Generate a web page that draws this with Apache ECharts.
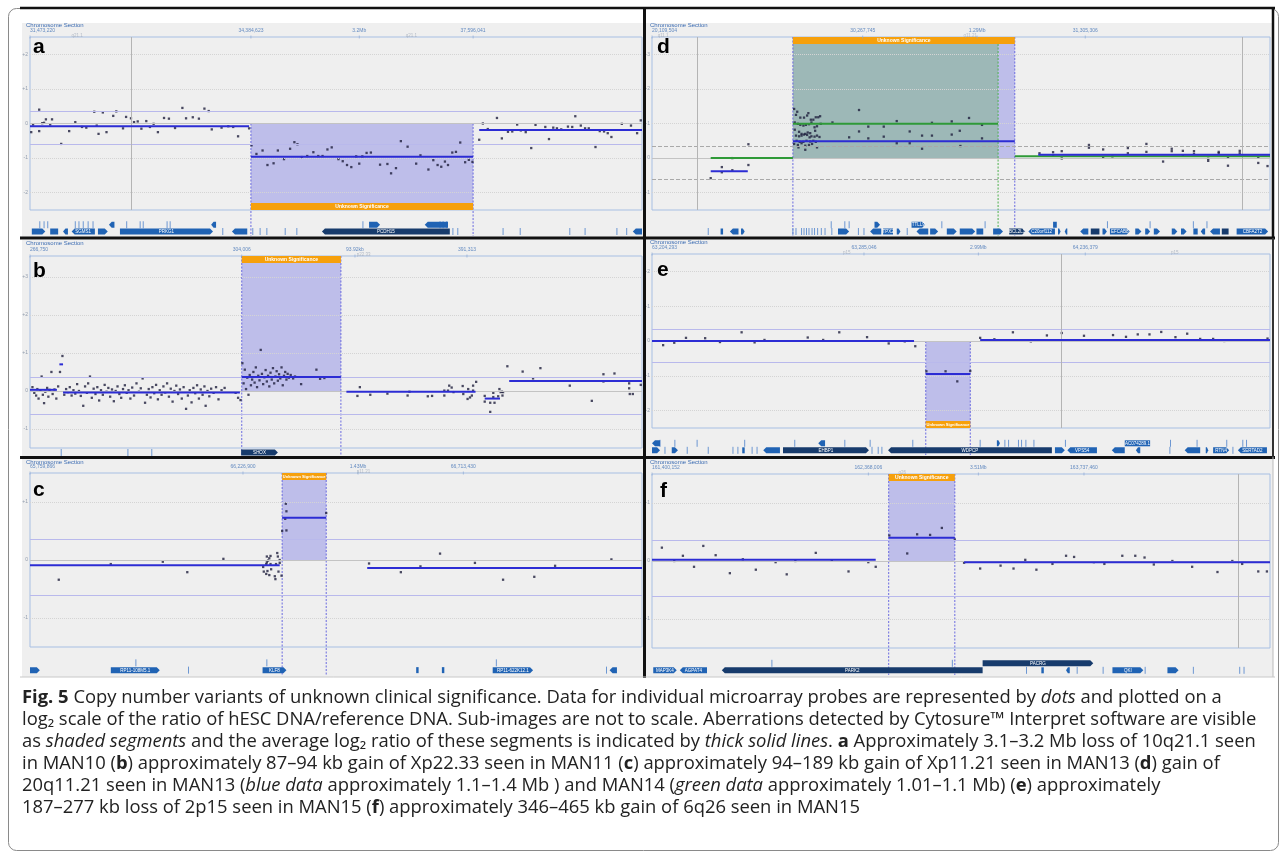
<!DOCTYPE html>
<html><head><meta charset="utf-8">
<script src="https://cdn.jsdelivr.net/npm/echarts@6/dist/echarts.min.js"></script>
<style>html,body{margin:0;padding:0;background:#fff;}#c{width:1287px;height:858px;}</style>
</head><body><div id="c"></div>
<script>
// ---------------- DATA ----------------
// x = relative position in the window (0-100 %), y = log2 ratio
const thresholds = [0.35, -0.6];

const aYTicks = [-2,-1,0,1,2];
const aDots = [[0.2,-0.25],[0.5,-0.03],[1.5,0.4],[1.5,-0.22],[2.0,0.01],[2.3,0.02],[2.6,0.12],[3.3,-0.03],[3.6,0.12],[5.1,-0.59],[6.4,-0.22],[7.4,0.04],[8.5,-0.1],[9.2,-0.12],[10.5,0.34],[10.9,-0.06],[11.2,-0.3],[11.9,0.32],[12.5,-0.25],[13.6,0.22],[14.1,0.35],[15.2,-0.14],[15.7,0.19],[16.5,0.15],[17.0,0.04],[17.6,0.06],[18.2,-0.15],[19.0,0.07],[19.6,-0.1],[20.2,-0.01],[20.9,-0.25],[21.9,0.16],[22.7,0.14],[23.7,-0.13],[24.9,0.45],[25.5,0.15],[26.6,0.18],[27.6,0.14],[28.5,0.43],[29.2,0.36],[29.7,-0.17],[31.3,-0.12],[32.4,-0.08],[33.2,-0.1],[34.0,-0.37],[35.8,-0.14],
[36.2,-0.63],[37.0,-0.88],[38.0,-0.78],[38.8,-1.2],[39.8,-1.15],[40.5,-0.78],[41.5,-1.03],[42.5,-0.73],[43.2,-0.54],[43.7,-0.6],[44.4,-0.97],[45.3,-0.94],[46.3,-0.83],[47.1,-0.94],[47.8,-0.94],[48.6,-0.75],[49.3,-0.69],[50.4,-1.03],[51.1,-1.09],[51.8,-1.2],[52.5,-1.26],[53.3,-0.95],[53.8,-1.16],[54.3,-0.95],[55.0,-0.85],[55.7,-0.84],[57.2,-1.19],[58.4,-1.17],[59.0,-1.44],[59.8,-1.29],[60.6,-0.51],[61.7,-0.67],[63.1,-1.16],[63.8,-0.92],[65.1,-1.33],[65.9,-1.06],[66.6,-1.2],[67.2,-1.25],[67.8,-1.1],[68.3,-1.2],[69.0,-0.84],[69.6,-0.82],[70.3,-0.55],[71.1,-1.12],[71.7,-1.05],[72.3,-1.11],
[73.4,-0.47],[74.0,0.0],[74.8,-0.16],[76.3,0.16],[77.1,-0.43],[78.1,-0.24],[78.8,-0.23],[79.6,-0.03],[80.2,-0.2],[81.0,-0.25],[81.9,-0.71],[82.6,-0.04],[84.2,-0.1],[84.8,-0.45],[85.5,-0.12],[86.1,-0.14],[86.8,-0.17],[87.9,-0.09],[88.6,-0.1],[89.1,0.21],[90.0,-0.06],[90.7,-0.14],[91.3,-0.14],[92.4,-0.68],[93.1,-0.22],[93.8,-0.23],[94.4,-0.28],[95.0,-0.39],[96.7,-0.01],[98.2,-0.06],[99.2,-0.28],[99.8,0.09]];
const aMean = [[0,35.8,-0.08],[36.1,72.4,-0.96],[73.4,100,-0.19]];
const aShade = [[36.1,72.4]];
const aVLines = [16.5];
const aTop = [[0,'31,473,220'],[36.1,'34,384,623'],[53.8,'3.2Mb'],[72.4,'37,596,041']];
const aBand = [[7.7,'q21.1'],[62.3,'q21.1']];
const aGenes = [[0.3,2.5,1,'r',0,''],[3.3,4.6,1,'b',0,''],[5.4,6.2,1,'l',0,''],[6.8,10.6,1,'l',0,'SGMS1'],[11.1,12.7,1,'r',0,''],[12.9,13.8,0,'l',0,''],[14.7,29.9,1,'r',0,'PRKG1'],[29.6,30.4,0,'l',0,''],[33.0,35.5,1,'l',0,''],[47.7,68.6,1,'l',1,'PCDH15'],[55.4,57.2,0,'r',0,''],[64.5,68.3,0,'l',0,''],[98.5,100,1,'l',0,'']];
const aGeneTicks = [[1.6,0],[2.3,0],[2.9,0],[7.4,0],[8.0,0],[8.7,0],[9.5,0],[10.3,0],[15.8,0],[18.0,0],[18.5,0],[22.4,0],[22.9,0],[54.4,0],[67.0,0],[67.5,0],[68.1,0],[31.5,1],[36.4,1],[37.6,1],[38.7,1],[41.7,1],[43.6,1],[69.1,1],[69.9,1],[77.3,1],[80.1,1],[88.2,1],[90.7,1],[95.9,1],[97.5,1]];

const bYTicks = [-1,0,1,2,3];
const bDots = [[0.4,0.1],[0.7,-0.05],[1.0,-0.12],[1.2,0.05],[1.4,-0.2],[1.7,0.02],[1.9,0.38],[2.1,-0.1],[2.3,-0.32],[2.5,-0.02],[2.8,0.08],[3.0,-0.15],[3.2,0.03],[3.5,0.5],[3.7,-0.08],[4.0,0.04],[4.3,-0.2],[4.6,0.12],[4.9,0.5],[5.3,0.92],[5.6,-0.1],[5.9,0.05],[6.2,-0.03],[6.5,0.1],[6.8,-0.12],[7.1,0.02],[7.4,-0.07],[7.7,0.18],[8.0,0.0],[8.3,-0.13],[8.7,-0.39],[9.0,0.12],[9.3,-0.05],[9.5,0.2],[9.8,0.38],[10.1,-0.18],[10.4,0.06],[10.7,-0.08],[11.0,0.1],[11.3,-0.25],[11.6,0.02],[11.9,-0.1],[12.2,0.16],[12.5,-0.02],[12.8,0.08],[13.1,-0.15],[13.4,0.04],[13.7,-0.27],[14.0,0.0],[14.3,0.12],[14.6,-0.08],[14.9,-0.18],[15.2,0.05],[15.5,0.15],[15.8,-0.05],[16.1,0.02],[16.4,-0.2],[16.7,0.09],[17.0,-0.12],[17.4,0.2],[17.8,-0.02],[18.1,0.07],[18.4,0.33],[18.8,-0.31],[19.1,-0.1],[19.4,0.05],[19.7,-0.17],[20.0,0.1],[20.3,-0.06],[20.6,0.16],[20.9,-0.22],[21.2,0.02],[21.5,-0.1],[21.8,0.12],[22.1,-0.04],[22.4,0.2],[22.7,-0.15],[23.0,0.06],[23.3,-0.28],[23.6,0.0],[23.9,0.14],[24.2,-0.08],[24.5,0.04],[24.8,-0.2],[25.1,0.1],[25.5,-0.47],[25.8,-0.12],[26.1,0.02],[26.4,-0.3],[26.7,0.08],[27.0,-0.06],[27.3,0.15],[27.6,-0.2],[27.9,0.04],[28.2,-0.1],[28.5,0.12],[28.7,-0.39],[29.0,0.0],[29.3,-0.14],[29.6,0.06],[30.0,-0.05],[30.4,0.1],[30.8,-0.22],[31.3,0.02],[31.8,0.08],[33.6,-0.05],[34.0,-0.18],[34.4,-0.24],
[34.7,0.73],[34.9,0.2],[35.1,0.56],[35.3,0.05],[35.5,0.35],[35.7,-0.1],[35.9,0.42],[36.1,0.15],[36.3,0.3],[36.5,0.5],[36.7,0.22],[36.9,0.62],[37.1,0.1],[37.3,0.4],[37.5,0.28],[37.7,1.08],[37.9,0.45],[38.1,0.18],[38.3,0.36],[38.5,0.55],[38.7,0.25],[38.9,0.4],[39.1,0.12],[39.3,0.48],[39.5,0.3],[39.7,0.6],[39.9,0.2],[40.1,0.38],[40.3,0.52],[40.5,0.27],[40.7,0.44],[40.9,0.33],[41.1,0.62],[41.3,0.15],[41.5,0.4],[41.7,0.5],[41.9,0.3],[42.1,0.45],[42.3,0.35],[42.6,0.42],[43.0,0.33],[43.3,0.38],[44.3,0.18],[46.8,0.56],[47.4,0.32],[48.1,0.34],
[53.9,0.1],[53.5,-0.13],[55.6,-0.1],[58.4,-0.07],[61.7,-0.12],[62.0,-0.02],[65.0,-0.14],[65.7,-0.13],[67.7,0.01],[67.7,-0.12],[68.5,0.14],[68.9,0.09],[68.3,0.01],[69.2,-0.03],[70.7,0.13],[70.8,-0.08],[71.6,0.05],[71.5,-0.21],[71.9,-0.17],[72.2,-0.12],[72.4,0.14],[72.4,0.01],[72.9,0.24],[74.3,-0.13],[74.3,-0.28],[75.2,-0.31],[75.2,-0.55],[75.7,-0.05],[75.7,-0.16],[75.9,-0.31],[76.5,-0.14],[76.7,0.05],[76.9,-0.03],[77.1,-0.02],[77.3,-0.03],[77.2,-0.12],[78.0,0.65],[80.5,0.51],[82.2,0.33],[83.4,0.6],[88.2,0.14],[91.8,-0.26],[93.7,0.44],[93.7,0.25],[95.5,0.46],[97.9,0.2],[97.9,0.07],[98.0,-0.08],[98.5,-0.08],[99.8,0.16]];
const bMean = [[0,4.4,0.03],[4.8,5.4,0.7],[5.4,34.3,-0.04],[34.6,50.8,0.37],[51.7,72.8,-0.02],[74.3,76.8,-0.2],[78.3,100,0.26]];
const bShade = [[34.6,50.8]];
const bVLines = [];
const bTop = [[0,'266,750'],[34.6,'304,006'],[53.1,'93.92kb'],[71.4,'391,313']];
const bBand = [[54.5,'p22.33']];
const bGenes = [[34.5,40.5,0,'r',1,'SHOX']];
const bGeneTicks = [[5.1,0],[16.0,0],[19.9,0]];

const cYTicks = [-1,0,1];
const cDots = [[4.7,-0.34],[13.2,-0.07],[21.7,-0.03],[25.7,-0.21],[31.6,0.02],[38.7,0.06],[39.1,0.03],[39.3,0.07],[40.4,0.12],[40.5,0.06],[38.7,-0.04],[38.9,-0.01],[38.1,-0.12],[38.6,-0.07],[39.3,-0.07],[40.2,-0.07],[40.8,-0.05],[38.2,-0.2],[38.8,-0.19],[39.4,-0.16],[40.6,-0.2],[38.6,-0.24],[39.1,-0.26],[40.0,-0.28],[40.1,-0.33],[41.1,-0.27],[40.8,0.0],[41.8,0.97],[41.9,0.84],[41.7,0.71],[41.2,0.5],[41.9,0.51],[48.4,0.81],[55.4,-0.06],[60.6,-0.21],[63.8,-0.11],[67.0,0.11],[72.7,-0.05],[77.3,-0.34],[82.4,-0.29],[85.8,-0.1],[95.0,0.01]];
const cMean = [[0,40.8,-0.09],[41.2,48.4,0.73],[55.1,100,-0.14]];
const cShade = [[41.2,48.4]];
const cVLines = [];
const cTop = [[0,'65,759,866'],[34.8,'66,226,900'],[53.6,'1.43Mb'],[70.8,'66,713,430']];
const cBand = [[54.5,'p11.21']];
const cGenes = [[0,1.6,1,'r',0,''],[13.2,21.2,1,'r',0,'RP11-108M5.1'],[38.0,41.9,1,'r',0,'KLF8'],[63.1,63.5,1,'b',0,''],[67.3,67.7,1,'b',0,''],[75.6,82.2,1,'r',0,'RP11-622K12.1'],[94.7,95.9,1,'l',0,'']];
const cGeneTicks = [[17.3,0],[38.7,0],[76.2,0],[25.9,1],[94.2,1]];

const dYTicks = [-1,0,1,2,3];
const dDots = [[9.5,-0.58],[11.3,-0.26],[11.3,-0.41],[13.0,-0.35],[13.0,0.0],[15.6,-0.2],[15.6,0.4],
[23.0,1.42],[23.5,1.34],[23.3,1.25],[24.0,1.17],[24.6,1.17],[25.1,1.23],[25.3,1.3],[25.7,1.11],[26.1,1.11],[26.5,1.18],[26.9,1.18],[27.2,1.21],[23.1,1.03],[23.6,0.99],[24.0,0.96],[24.5,0.94],[24.9,0.96],[25.4,0.98],[25.8,1.03],[26.3,0.89],[26.7,0.92],[27.3,0.99],[23.1,0.82],[23.8,0.76],[24.2,0.7],[24.8,0.7],[25.2,0.74],[25.6,0.72],[26.4,0.79],[23.3,0.65],[23.8,0.63],[24.2,0.65],[24.6,0.68],[25.1,0.67],[25.5,0.6],[25.8,0.63],[26.3,0.62],[26.7,0.65],[27.1,0.61],[23.4,0.5],[23.9,0.47],[24.5,0.47],[25.0,0.5],[25.6,0.48],[26.1,0.5],[26.5,0.47],[23.0,0.41],[23.6,0.38],[24.2,0.43],[24.8,0.36],[25.4,0.38],[25.9,0.41],[26.7,0.31],[23.7,0.31],[24.8,0.24],
[29.2,1.03],[31.9,0.6],[33.5,1.39],[33.5,0.77],[35.0,0.91],[35.0,0.57],[37.5,0.91],[37.5,0.62],[39.6,1.07],[39.6,0.43],[41.7,0.77],[41.7,0.43],[43.7,0.65],[43.7,0.27],[45.3,1.02],[45.3,0.65],[48.5,1.06],[48.5,0.68],[49.9,0.35],[51.3,1.16],[49.8,0.79],[53.4,0.96],[53.4,0.57],
[62.7,0.14],[64.9,0.17],[64.9,0.07],[66.3,0.2],[66.3,-0.01],[70.7,0.38],[70.7,0.3],[73.0,0.25],[73.0,0.01],[74.5,0.05],[77.0,0.29],[77.0,0.14],[80.0,0.41],[80.0,0.18],[82.7,-0.1],[84.1,0.27],[84.1,0.2],[85.9,0.21],[85.9,0.07],[87.7,0.2],[87.7,0.12],[90.0,-0.02],[90.0,-0.08],[91.7,0.18],[91.7,0.14],[93.2,0.01],[93.2,-0.22],[95.1,0.21],[95.1,0.14],[98.1,0.01],[98.1,-0.14],[99.6,-0.23]];
const dBlueMean = [[9.5,15.5,-0.38],[22.8,58.7,0.49],[62.5,100,0.1]];
const dGreenMean = [[9.5,22.8,0.0],[22.8,56.0,0.99],[58.7,100,0.05]];
const dShadeBlue = [[22.8,58.7]];
const dShadeGreen = [[22.8,56.0]];
const dVLines = [7.3,95.5];
const dTop = [[0,'20,109,504'],[34.1,'30,267,745'],[52.6,'1.29Mb'],[70.1,'31,305,306']];
const dBand = [[1.8,'q11.1'],[51.5,'q11.21']];
const dGenes = [[11.1,11.5,1,'b',0,''],[12.6,14.0,1,'l',0,''],[14.4,15.0,1,'r',0,''],[30.1,31.9,1,'r',0,''],[35.3,37.1,1,'l',0,''],[37.4,39.0,1,'b',0,'TPX2'],[39.6,40.2,1,'r',0,''],[42.8,44.7,1,'l',0,''],[45.0,46.3,1,'r',0,''],[47.7,49.3,1,'r',0,''],[49.8,52.3,1,'r',0,''],[52.5,53.6,1,'b',0,''],[55.2,56.8,1,'r',0,''],[57.8,60.4,1,'r',1,'BCL2L1'],[60.9,65.2,1,'l',0,'C20orf112'],[65.7,66.1,1,'r',0,''],[66.8,67.2,1,'l',0,''],[69.3,70.6,1,'l',0,''],[71.0,72.4,1,'b',1,''],[72.9,73.6,1,'r',0,''],[74.1,77.3,1,'r',0,'EFCAB8'],[78.2,79.2,1,'r',0,''],[79.8,80.6,1,'r',0,''],[81.2,82.2,1,'r',0,''],[84.1,85.0,1,'r',0,''],[85.6,86.5,1,'r',0,''],[87.6,88.3,1,'b',0,''],[88.8,89.5,1,'l',0,''],[90.3,91.9,1,'l',0,''],[92.2,93.3,1,'b',1,''],[94.6,99.7,1,'r',0,'CBFA2T2'],[36.0,36.9,0,'r',0,''],[42.0,44.2,0,'r',0,'TTLL9'],[64.9,65.5,0,'b',0,'']];
const dGeneTicks = [[29.0,0],[31.2,0],[31.9,0],[46.9,0],[53.9,0],[73.7,0],[80.6,0],[87.6,0],[89.8,0],[9.1,1],[22.8,1],[23.3,1],[24.2,1],[24.6,1],[25.0,1],[25.4,1],[25.9,1],[26.3,1],[26.8,1],[27.4,1],[28.0,1],[29.1,1],[33.4,1],[34.3,1],[41.3,1]];

const eYTicks = [-2,-1,0,1,2];
const eDots = [[1.8,-0.12],[3.6,-0.05],[5.5,0.09],[8.6,0.08],[11.0,-0.03],[14.5,0.25],[16.6,-0.04],[18.2,0.03],[25.2,0.1],[27.7,0.03],[30.3,0.25],[34.8,0.11],[38.3,-0.07],[40.9,-0.01],[42.6,-0.15],[44.4,-0.87],[47.5,-0.87],[49.4,-1.16],[51.5,-0.86],[53.1,0.09],[55.4,0.05],[58.4,0.25],[61.3,-0.01],[63.9,0.16],[66.3,0.23],[69.9,0.15],[74.6,0.17],[76.7,0.12],[78.6,0.19],[80.5,0.19],[82.4,0.26],[84.7,0.11],[86.6,0.21],[88.7,0.06],[90.8,0.06],[92.6,0.0],[95.1,0.02],[99.6,0.07]];
const eMean = [[0,42.4,0.0],[44.3,51.5,-0.95],[53.1,100,0.03]];
const eShade = [[44.3,51.5]];
const eVLines = [66.3];
const eTop = [[0,'63,204,293'],[34.3,'63,285,046'],[52.8,'2.99Mb'],[70.1,'64,236,379']];
const eBand = [[31.5,'p15'],[84.6,'p15']];
const eGenes = [[0,1.3,0,'l',0,''],[26.9,28.0,0,'l',0,''],[55.8,56.3,0,'r',0,''],[76.5,80.6,0,'b',0,'AC074289.1'],[0,1.3,1,'r',0,''],[3.2,4.2,1,'r',0,''],[14.6,15.0,1,'b',0,''],[18.0,20.7,1,'l',0,''],[21.2,35.1,1,'r',1,'EHBP1'],[38.2,64.7,1,'l',1,'WDPCP'],[65.2,66.8,1,'r',0,''],[67.2,72.0,1,'l',0,'VPS54'],[74.4,76.5,1,'l',0,''],[78.3,79.0,1,'l',0,''],[86.2,88.7,1,'l',0,''],[89.6,90.0,1,'r',0,''],[90.8,93.4,1,'r',0,'RTN4'],[94.8,99.5,1,'l',0,'SERTAD2']];
const eGeneTicks = [[1.3,0],[3.7,0],[7.3,0],[15.0,0],[23.1,0],[31.2,0],[35.3,0],[42.2,0],[53.1,0],[57.1,0],[57.7,0],[59.3,0],[59.8,0],[60.5,0],[61.8,0],[66.9,0],[83.9,0],[88.2,0],[93.0,0],[95.6,0],[96.2,0],[2.1,1],[5.7,1],[9.1,1],[13.1,1],[13.9,1],[16.2,1],[17.0,1],[35.6,1],[36.6,1],[37.2,1],[83.8,1],[94.0,1]];

const fYTicks = [-1,0,1];
const fDots = [[1.6,0.23],[3.6,0.0],[5.0,0.09],[6.8,-0.1],[8.3,0.26],[10.3,0.1],[12.6,-0.21],[14.7,0.03],[16.8,-0.15],[20.0,-0.02],[21.8,-0.23],[23.2,0.0],[26.5,0.14],[29.1,0.01],[31.8,-0.18],[35.0,-0.02],[36.2,-0.1],[38.4,0.44],[41.3,0.13],[42.9,0.46],[45.0,0.45],[46.9,0.57],[49.0,0.37],[50.5,-0.03],[53.1,-0.13],[56.4,-0.08],[58.5,-0.13],[60.4,0.02],[62.2,-0.15],[64.8,-0.05],[67.0,0.09],[68.3,0.07],[71.5,-0.02],[73.2,-0.05],[76.1,0.09],[78.2,0.09],[79.7,0.06],[81.2,-0.06],[84.2,0.0],[87.4,-0.1],[91.5,-0.19],[93.9,0.0],[95.5,-0.05],[98.1,-0.18],[99.5,-0.18]];
const fMean = [[0,36.2,0.02],[38.3,49.0,0.4],[50.5,100,-0.02]];
const fShade = [[38.3,49.0]];
const fVLines = [94.8];
const fTop = [[0,'161,400,152'],[35.0,'162,368,006'],[52.8,'3.51Mb'],[69.9,'163,737,460']];
const fBand = [[40.5,'q26']];
const fGenes = [[0.2,4.0,1,'r',0,'MAP3K4'],[4.5,8.9,1,'l',0,'AGPAT4'],[11.3,53.5,1,'l',1,'PARK2'],[53.5,71.4,0,'r',1,'PACRG'],[63.0,63.4,1,'b',0,''],[67.0,67.6,1,'l',0,''],[74.5,79.5,1,'r',0,'QKI'],[83.4,85.2,1,'r',0,'']];
const fGeneTicks = [[19.4,0],[48.6,0],[60.6,1],[68.8,1],[73.0,1],[79.8,1],[87.6,1],[95.1,1],[95.8,1]];

const captionLines = [
 '{b|Fig. 5} Copy number variants of unknown clinical significance. Data for individual microarray probes are represented by {i|dots} and plotted on a',
 'log\u2082 scale of the ratio of hESC DNA/reference DNA. Sub-images are not to scale. Aberrations detected by Cytosure\u2122 Interpret software are visible',
 'as {i|shaded segments} and the average log\u2082 ratio of these segments is indicated by {i|thick solid lines}. {b|a} Approximately 3.1\u20133.2 Mb loss of 10q21.1 seen',
 'in MAN10 ({b|b}) approximately 87\u201394 kb gain of Xp22.33 seen in MAN11 ({b|c}) approximately 94\u2013189 kb gain of Xp11.21 seen in MAN13 ({b|d}) gain of',
 '20q11.21 seen in MAN13 ({i|blue data} approximately 1.1\u20131.4 Mb ) and MAN14 ({i|green data} approximately 1.01\u20131.1 Mb) ({b|e}) approximately',
 '187\u2013277 kb loss of 2p15 seen in MAN15 ({b|f}) approximately 346\u2013465 kb gain of 6q26 seen in MAN15'
];

// ---------------- STYLE / LAYOUT ----------------
const BLUE='#2c2cd4', GREEN='#2f9a38', LAV='#bebeea', TEAL='#9db8b7', ORANGE='#f6a00c', DOT='#1e1e3c';
const GENE='#2063b4', GENE_DARK='#173b6c', TICKC='#6d97d2';
const FONT='"Liberation Sans", Arial, sans-serif';
const CAPFONT='"Open Sans", sans-serif', CAPSIZE=18.4;

const panels = [
 {letter:'a', lpos:[33,47], dots:aDots, means:[[aMean,BLUE]], shades:[[aShade,LAV]], orange:aShade, edges:[[aShade,'#6b6be0']], dir:'loss', y:[-2.5,2.5], yTicks:aYTicks, vlines:aVLines, top:aTop, band:aBand, genes:aGenes, gticks:aGeneTicks, thr:'solid',
  box:{left:30,top:37,width:612,height:173,gTop:211,gH:25}, bg:[22,23,621,214], title:[26,25], rows:[0.55,0.82]},
 {letter:'b', lpos:[33,271], dots:bDots, means:[[bMean,BLUE]], shades:[[bShade,LAV]], orange:bShade, edges:[[bShade,'#6b6be0']], dir:'gain', y:[-1.5,3.55], yTicks:bYTicks, vlines:bVLines, top:bTop, band:bBand, genes:bGenes, gticks:bGeneTicks, thr:'solid',
  box:{left:30,top:256,width:612,height:192,gTop:449,gH:7}, bg:[22,240,621,216], title:[26,243], rows:[0.5,0.5]},
 {letter:'c', lpos:[33,490], dots:cDots, means:[[cMean,BLUE]], shades:[[cShade,LAV]], orange:cShade, edges:[[cShade,'#6b6be0']], dir:'gain', y:[-1.5,1.5], yTicks:cYTicks, vlines:cVLines, top:cTop, band:cBand, genes:cGenes, gticks:cGeneTicks, thr:'solid',
  box:{left:30,top:473,width:612,height:174,gTop:648,gH:27}, bg:[22,459,621,218], title:[26,462], rows:[0.55,0.82]},
 {letter:'d', lpos:[657,47], dots:dDots, means:[[dGreenMean,GREEN],[dBlueMean,BLUE]], shades:[[dShadeBlue,LAV],[dShadeGreen,TEAL]], orange:dShadeBlue, edges:[[dShadeBlue,'#6b6be0'],[[[56.0,56.0]],'#4fb04f']], dir:'gain', y:[-1.5,3.5], yTicks:dYTicks, vlines:dVLines, top:dTop, band:dBand, genes:dGenes, gticks:dGeneTicks, thr:'dashed',
  box:{left:652,top:37,width:618,height:173,gTop:211,gH:25}, bg:[646,23,627,214], title:[650,25], rows:[0.55,0.82]},
 {letter:'e', lpos:[657,270], dots:eDots, means:[[eMean,BLUE]], shades:[[eShade,LAV]], orange:eShade, edges:[[eShade,'#6b6be0']], dir:'loss', y:[-2.5,2.5], yTicks:eYTicks, vlines:eVLines, top:eTop, band:eBand, genes:eGenes, gticks:eGeneTicks, thr:'solid',
  box:{left:652,top:254,width:618,height:174,gTop:429,gH:26}, bg:[646,240,627,216], title:[650,242], rows:[0.55,0.82]},
 {letter:'f', lpos:[660,491], dots:fDots, means:[[fMean,BLUE]], shades:[[fShade,LAV]], orange:fShade, edges:[[fShade,'#6b6be0']], dir:'gain', y:[-1.5,1.5], yTicks:fYTicks, vlines:fVLines, top:fTop, band:fBand, genes:fGenes, gticks:fGeneTicks, thr:'solid',
  box:{left:652,top:474,width:618,height:174,gTop:649,gH:26}, bg:[646,459,627,218], title:[650,462], rows:[0.55,0.82]}
];

// ---------------- RENDER HELPERS ----------------
function rectRender(y0, y1, color){
  return function(params, api){
    const p0 = api.coord([api.value(0), y0]), p1 = api.coord([api.value(1), y1]);
    return {type:'rect', shape:{x:Math.min(p0[0],p1[0]), y:Math.min(p0[1],p1[1]), width:Math.abs(p1[0]-p0[0]), height:Math.abs(p1[1]-p0[1])}, style:{fill:color}};
  };
}
function orangeRender(y0, y1){
  return function(params, api){
    const p0 = api.coord([api.value(0), y0]), p1 = api.coord([api.value(1), y1]);
    const x=Math.min(p0[0],p1[0]), y=Math.min(p0[1],p1[1]), w=Math.abs(p1[0]-p0[0]), h=Math.abs(p1[1]-p0[1]);
    const fs = Math.min(5, w/11);
    return {type:'group', children:[
      {type:'rect', shape:{x:x,y:y,width:w,height:h}, style:{fill:ORANGE}},
      {type:'text', style:{text:'Unknown Significance', x:x+w/2, y:y+h/2+0.5, fill:'#fff', fontSize:fs, fontWeight:'bold', align:'center', verticalAlign:'middle', fontFamily:FONT}}
    ]};
  };
}
function segRender(color){
  return function(params, api){
    const p1 = api.coord([api.value(0), api.value(2)]), p2 = api.coord([api.value(1), api.value(2)]);
    return {type:'line', shape:{x1:p1[0],y1:p1[1],x2:p2[0],y2:p2[1]}, style:{stroke:color, lineWidth:2}};
  };
}
function vDashRender(yA, yB, color){
  return function(params, api){
    const x = api.value(0);
    const p0 = api.coord([x, yA]), p1 = api.coord([x, yB]);
    return {type:'line', shape:{x1:p0[0],y1:p0[1],x2:p1[0],y2:p1[1]}, style:{stroke:color, lineWidth:1, lineDash:[2,1.5]}};
  };
}
function geneRender(genes, rows){
  return function(params, api){
    const g = genes[params.dataIndex];
    const yC = api.coord([0, rows[g[2]]])[1];
    const x1 = api.coord([g[0], 0])[0], x2 = api.coord([g[1], 0])[0];
    const hh = 3, a = Math.min(3, (x2-x1)*0.5);
    let pts;
    if (g[3]==='r') pts=[[x1,yC-hh],[x2-a,yC-hh],[x2,yC],[x2-a,yC+hh],[x1,yC+hh]];
    else if (g[3]==='l') pts=[[x1,yC],[x1+a,yC-hh],[x2,yC-hh],[x2,yC+hh],[x1+a,yC+hh]];
    else pts=[[x1,yC-hh],[x2,yC-hh],[x2,yC+hh],[x1,yC+hh]];
    const children=[{type:'polygon', shape:{points:pts}, style:{fill: g[4]?GENE_DARK:GENE}}];
    if (g[5]) children.push({type:'text', style:{text:g[5], x:(x1+x2)/2, y:yC+0.5, align:'center', verticalAlign:'middle', fontSize:4.5, fill:'#fff', fontFamily:FONT}});
    return {type:'group', children:children};
  };
}
function tickRender(ticks, rows, len){
  return function(params, api){
    const t = ticks[params.dataIndex];
    const x = api.coord([t[0], 0])[0], y = api.coord([0, rows[t[1]]])[1];
    return {type:'line', shape:{x1:x,y1:y-len/2,x2:x,y2:y+len/2}, style:{stroke:TICKC, lineWidth:1}};
  };
}

// ---------------- BUILD OPTION ----------------
const grids=[], xAxes=[], yAxes=[], series=[], graphics=[];
panels.forEach(function(p){
  const gi = grids.length;
  const B = p.box;
  grids.push({left:B.left, top:B.top, width:B.width, height:B.height, show:true, backgroundColor:'#efefef', borderColor:'#a7bfe3', borderWidth:1});
  grids.push({left:B.left, top:B.gTop, width:B.width, height:B.gH, show:false});
  xAxes.push({gridIndex:gi, type:'value', min:0, max:100, show:false});
  xAxes.push({gridIndex:gi+1, type:'value', min:0, max:100, show:false});
  yAxes.push({gridIndex:gi, type:'value', min:p.y[0], max:p.y[1], show:false});
  yAxes.push({gridIndex:gi+1, type:'value', min:0, max:1, inverse:true, show:false});
  const ax = {xAxisIndex:gi, yAxisIndex:gi, coordinateSystem:'cartesian2d', silent:true};
  const gx = {xAxisIndex:gi+1, yAxisIndex:gi+1, coordinateSystem:'cartesian2d', silent:true};
  const yEdge = p.dir==='loss' ? p.y[0] : p.y[1];
  const barU = 7 * (p.y[1]-p.y[0]) / B.height;
  p.shades.forEach(function(s){
    series.push(Object.assign({type:'custom', z:1, renderItem:rectRender(0, yEdge, s[1]), data:s[0].map(function(d){return [d[0],d[1],0];}), encode:{x:[0,1],y:2}}, ax));
  });
  const ml = [];
  p.yTicks.forEach(function(v){ if(v!==0) ml.push({yAxis:v, lineStyle:{color:'#d4d4d4', type:'dotted', width:1}}); });
  ml.push({yAxis:0, lineStyle:{color:'#c3c3c3', type:'solid', width:1}});
  thresholds.forEach(function(v){ ml.push({yAxis:v, lineStyle: p.thr==='dashed' ? {color:'#a9a9a9', type:[4,2], width:1} : {color:'#b9b9ec', type:'solid', width:1}}); });
  p.vlines.forEach(function(v){ ml.push({xAxis:v, lineStyle:{color:'#b4b4b4', type:'solid', width:1}}); });
  series.push(Object.assign({type:'scatter', z:2, clip:false, symbolSize:0.01, data:p.yTicks.map(function(v){return [0,v];}),
    label:{show:true, position:'left', distance:2, fontSize:5, color:'#7b889e', fontFamily:FONT, formatter:function(q){const v=q.value[1]; return v>0?'+'+v:String(v);}},
    markLine:{silent:true, symbol:['none','none'], label:{show:false}, animation:false, data:ml}}, ax));
  const o0 = p.dir==='loss' ? p.y[0] : p.y[1];
  const o1 = p.dir==='loss' ? p.y[0]+barU : p.y[1]-barU;
  series.push(Object.assign({type:'custom', z:6, renderItem:orangeRender(o0, o1), data:p.orange.map(function(d){return [d[0],d[1],0];}), encode:{x:[0,1],y:2}}, ax));
  p.edges.forEach(function(e){
    const xs = [];
    e[0].forEach(function(d){ if(xs.indexOf(d[0])<0) xs.push(d[0]); if(xs.indexOf(d[1])<0) xs.push(d[1]); });
    series.push(Object.assign({type:'custom', z:3, renderItem:vDashRender(p.dir==='loss'?0:p.y[1], p.y[0], e[1]), data:xs.map(function(x){return [x,0];})}, ax));
    series.push(Object.assign({type:'custom', z:3, renderItem:vDashRender(0, 1, e[1]), data:xs.map(function(x){return [x,0.5];})}, gx));
  });
  series.push(Object.assign({type:'scatter', z:4, clip:false, symbol:'rect', symbolSize:2.3, itemStyle:{color:DOT}, data:p.dots}, ax));
  p.means.forEach(function(m){
    series.push(Object.assign({type:'custom', z:5, renderItem:segRender(m[1]), data:m[0], encode:{x:[0,1],y:2}}, ax));
  });
  series.push(Object.assign({type:'scatter', z:6, clip:false, symbol:'rect', symbolSize:[0.8,3], itemStyle:{color:'#8aa8d6'},
    data:p.top.map(function(t,k){return {value:[t[0],p.y[1]], name:t[1], label:{align:k===0?'left':'center'}};}),
    label:{show:true, position:'top', distance:2, fontSize:5, color:'#3e70b5', fontFamily:FONT, formatter:'{b}'}}, ax));
  series.push(Object.assign({type:'scatter', z:6, clip:false, symbolSize:0.01,
    data:p.band.map(function(t){return {value:[t[0],p.y[1]], name:t[1]};}),
    label:{show:true, position:'top', distance:-1, fontSize:4.5, color:'#a3adbb', fontFamily:FONT, formatter:'{b}'}}, ax));
  series.push(Object.assign({type:'custom', z:4, renderItem:tickRender(p.gticks, p.rows, B.gH<10?B.gH:7), data:p.gticks.map(function(t){return [t[0], p.rows[t[1]]];})}, gx));
  series.push(Object.assign({type:'custom', z:5, renderItem:geneRender(p.genes, p.rows), data:p.genes.map(function(g){return [g[0], p.rows[g[2]]];})}, gx));
  graphics.push({type:'rect', z:-10, shape:{x:p.bg[0], y:p.bg[1], width:p.bg[2], height:p.bg[3]}, style:{fill:'#efefef'}});
  graphics.push({type:'text', z:10, x:p.title[0], y:p.title[1], style:{text:'Chromosome Section', fontSize:6, fill:'#3d6db3', fontFamily:FONT, verticalAlign:'middle'}});
  graphics.push({type:'text', z:10, x:p.lpos[0], y:p.lpos[1], style:{text:p.letter, fontSize:21, fontWeight:'bold', fill:'#000', fontFamily:FONT, verticalAlign:'middle'}});
});

const frame = [
 [20,8,1275,8,2.5,'#111'],
 [20,238,1275,238,3,'#111'],
 [20,457.5,1275,457.5,3,'#111'],
 [644.5,8,644.5,678,3,'#111'],
 [1273,8,1273,238,2.5,'#111'],
 [1273,238,1273,457,2,'#333'],
 [1273,457,1273,677,1,'#bbb'],
 [20,677,1275,677,1,'#c8c8c8']
];
frame.forEach(function(f){ graphics.push({type:'line', z:20, shape:{x1:f[0],y1:f[1],x2:f[2],y2:f[3]}, style:{stroke:f[5], lineWidth:f[4]}}); });
graphics.push({type:'rect', z:19, shape:{x:8.5,y:8.5,width:1270,height:842,r:8}, style:{fill:'none', stroke:'#8a8a8a', lineWidth:1}});

const capRich = {
  b:{fontWeight:'bold', fontSize:CAPSIZE, fontFamily:CAPFONT, color:'#222'},
  i:{fontStyle:'italic', fontSize:CAPSIZE, fontFamily:CAPFONT, color:'#222'}
};
captionLines.forEach(function(ln,k){
  graphics.push({type:'text', z:10, x:22, y:698+k*22, style:{text:ln, rich:capRich, fontSize:CAPSIZE, fontFamily:CAPFONT, fill:'#222', verticalAlign:'middle'}});
});

const chart = echarts.init(document.getElementById('c'), null, {renderer:'canvas'});
chart.setOption({
  animation:false,
  backgroundColor:'#ffffff',
  grid:grids, xAxis:xAxes, yAxis:yAxes, series:series, graphic:graphics
});
</script></body></html>
